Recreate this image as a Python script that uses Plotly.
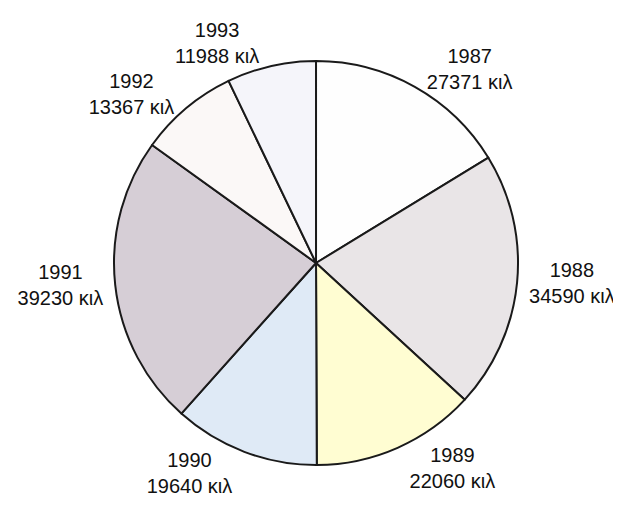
import plotly.graph_objects as go

years = ["1987", "1988", "1989", "1990", "1991", "1992", "1993"]
values = [27371, 34590, 22060, 19640, 39230, 13367, 11988]
unit = "κιλ"
colors = ["#fefefe", "#e9e5e7", "#fffdd2", "#dfeaf6", "#d6ced6", "#fbf8f7", "#f5f5fa"]

labels_text = [f"{y}<br>{v} {unit}" for y, v in zip(years, values)]

fig = go.Figure(go.Pie(
    labels=years,
    values=values,
    text=labels_text,
    textinfo="text",
    textposition="outside",
    sort=False,
    direction="clockwise",
    rotation=0,
    marker=dict(colors=colors, line=dict(color="#1a1a1a", width=2)),
    outsidetextfont=dict(family="Liberation Sans, Arial, sans-serif", size=20, color="#111111"),
    showlegend=False,
    automargin=False,
    domain=dict(x=[0.1707, 0.8213], y=[0.1109, 0.8969]),
))

fig.update_layout(
    width=621, height=514,
    margin=dict(l=0, r=0, t=0, b=0),
    paper_bgcolor="white",
    plot_bgcolor="white",
)

fig.write_html("out.html")
